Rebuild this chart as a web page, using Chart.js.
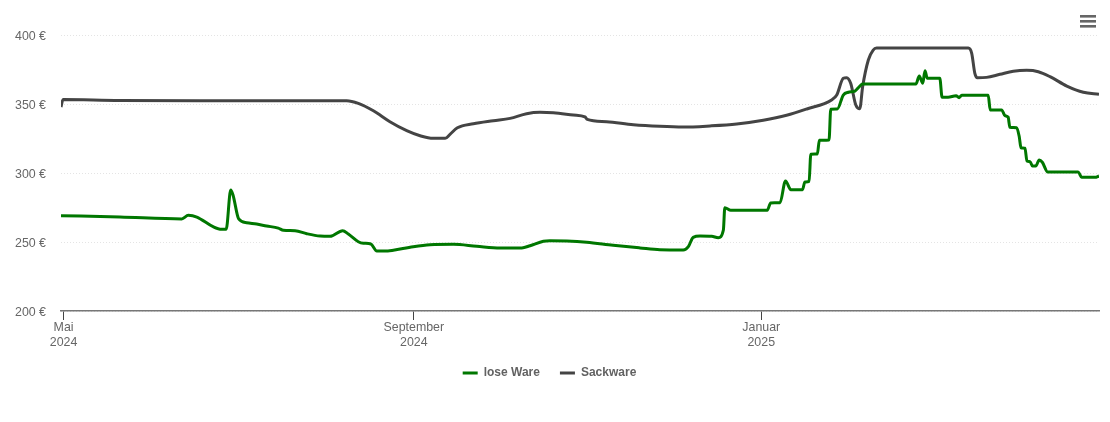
<!DOCTYPE html>
<html><head><meta charset="utf-8">
<style>html,body{margin:0;padding:0;background:#fff}#w{width:1110px;height:422px;position:relative}</style>
<script src="https://cdn.jsdelivr.net/npm/chart.js@4"></script></head>
<body><div id="w"><canvas id="c" width="1110" height="422"></canvas></div>
<script>
// x values are days since 1 May 2024
const tickDays = [0, 123, 245];
const tickLabels = [["Mai","2024"],["September","2024"],["Januar","2025"]];
const yTicks = [200,250,300,350,400];
const looseName = "lose Ware";
const sackName = "Sackware";
const looseDays = [-0.9,19.8,41.5,43.8,46.8,52.5,55.5,57.1,58.7,59.5,61.5,64.3,67.8,71.3,75.4,77.2,81.3,85.4,90.1,93.6,98,100,103.5,105.3,107.9,110,113.9,115.8,122.8,128.7,136.9,145.1,153.3,160.9,163.8,168.5,170.8,176.7,183.7,193,202.4,209.4,217.6,219.4,221.1,223.5,227.6,229.9,231.7,232.2,234.3,247.1,248.3,251.6,253.5,255.4,259.5,260.3,261.8,262.4,264.7,265.4,268.8,269.4,271.7,273.8,275.6,277.9,279.4,280.6,299.3,300.5,301.7,302.5,303.3,307.7,308.5,310.6,313.4,314.5,315.4,324.7,325.4,329.4,330.6,331.7,332.3,334.7,335.6,336.2,337.6,338.3,339.4,340.2,341.4,342.6,343.7,345.6,356.3,357.5,362.2,363.6];
const looseVals = [269.1,268.1,266.7,269.3,268.1,261.1,259.2,259.2,287.7,284.1,266.7,264,263,261.6,260.1,258.5,258.2,256,254.3,254.1,258.2,255.8,250.2,249.1,248.6,243.5,243.5,244,246.6,248,248.3,246.9,245.7,245.7,247.3,250.5,250.9,250.7,249.8,247.6,245.7,244.4,244.2,246.6,253.4,254.3,254.1,253.1,258.7,274.9,273,273,278.3,278.5,294.2,287.9,287.9,293.5,294,313.6,313.8,323.7,323.9,346.2,346.4,356.5,358.5,359.4,362.5,364.5,364.5,370.3,365,374.1,368.6,368.6,354.9,354.9,356,354.6,356.3,356.3,345.7,345.7,341.5,340.4,333.1,332.8,326.3,318.3,317.9,308.7,308.2,305.1,305.1,309.4,307.8,300.7,300.7,296.9,296.9,297.8];
const sackDays = [-0.9,-0.2,19.8,47.9,93.6,99.4,103.5,108.8,114.6,120.5,125.2,129.8,134,135.7,138.3,143.9,150.9,156.8,162.6,167.3,172,179,183.1,183.9,190.7,200.1,209.4,217.6,227,236.4,245.7,253.9,261,269.7,271.5,273.8,275,276.4,278.2,279.6,280.6,282.6,284.3,285.5,317.7,318.9,320,320.9,324.1,328.8,333.5,338.2,342.3,346.4,352.3,358.1,363.6];
const sackVals = [347.8,353.2,352.5,352.4,352.4,352.4,350.5,345.1,337.2,330.7,327,325.1,325.1,328,332.8,335.7,337.9,339.6,343,344,343.7,342,340.6,338.9,337.2,335,333.8,333.3,334.1,335.5,338.2,341.8,346.4,352.9,356.5,368.6,369.1,365,349.3,346.6,362.5,381.9,389.1,390.5,390.5,386.7,372.2,369,369.3,371.5,373.7,374.4,373.4,369.8,363,358.5,357];

const zip = (xs, ys) => xs.map((x, i) => ({x, y: ys[i]}));
const menuIcon = {
  id: 'menuIcon',
  afterDraw(ch) {
    const g = ch.ctx; g.save(); g.fillStyle = '#666';
    [15, 20, 25].forEach(t => g.fillRect(1080, t, 16, 2.6));
    g.restore();
  }
};
const family = '"Liberation Sans", Arial, sans-serif';
new Chart(document.getElementById('c'), {
  type: 'line',
  plugins: [menuIcon],
  data: { datasets: [
    { label: looseName, data: zip(looseDays, looseVals), borderColor: '#007700', backgroundColor: '#007700', borderWidth: 3, pointRadius: 0, cubicInterpolationMode: 'monotone', fill: false },
    { label: sackName, data: zip(sackDays, sackVals), borderColor: '#444444', backgroundColor: '#444444', borderWidth: 3, pointRadius: 0, cubicInterpolationMode: 'monotone', fill: false }
  ]},
  options: {
    responsive: false, animation: false, devicePixelRatio: 1,
    layout: { padding: { top: 35, right: 11, left: 0, bottom: 33 } },
    plugins: {
      tooltip: { enabled: false },
      legend: { position: 'bottom', labels: { usePointStyle: true, pointStyle: 'line', pointStyleWidth: 15, boxHeight: 12, padding: 20, color: '#626262', font: { family, size: 12, weight: 'bold' } } }
    },
    scales: {
      x: {
        type: 'linear', min: -0.9, max: 363.6,
        afterBuildTicks: s => { s.ticks = tickDays.map(v => ({value: v})); },
        afterFit: s => { s.height = 36; },
        border: { color: '#777777', width: 1.5 },
        grid: { drawOnChartArea: false, drawTicks: true, tickLength: 9, tickColor: '#444444', tickWidth: 1 },
        ticks: { autoSkip: false, maxRotation: 0, minRotation: 0, padding: 0, color: '#666666', font: { family, size: 12.4, lineHeight: 1.21 },
          callback: (v) => tickLabels[tickDays.indexOf(v)] }
      },
      y: {
        min: 200, max: 400,
        afterBuildTicks: s => { s.ticks = yTicks.map(v => ({value: v})); },
        afterFit: s => { s.width = 61; },
        border: { display: false, dash: [1,2] },
        grid: { drawTicks: false, color: '#e4e4e4', lineWidth: 1 },
        ticks: { padding: 15, labelOffset: 2, color: '#666666', font: { family, size: 12.4 }, callback: v => v + ' €' }
      }
    }
  }
});
</script></body></html>
